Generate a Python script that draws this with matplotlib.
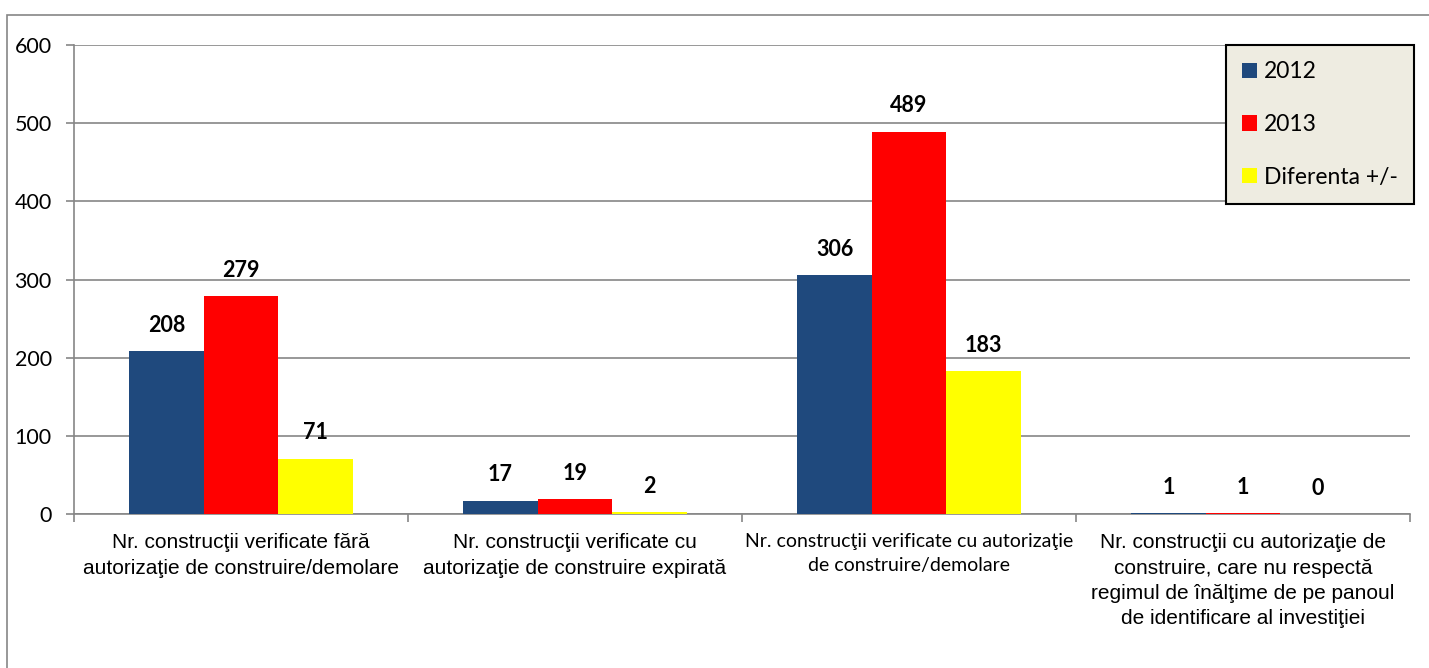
import matplotlib
matplotlib.use("Agg")
import matplotlib.pyplot as plt
import matplotlib.patches as mpatches
import numpy as np

categories = [
    "Nr. construcţii verificate fără\nautorizaţie de construire/demolare",
    "Nr. construcţii verificate cu\nautorizaţie de construire expirată",
    "Nr. construcţii verificate cu autorizaţie\nde construire/demolare",
    "Nr. construcţii cu autorizaţie de\nconstruire, care nu respectă\nregimul de înălţime de pe panoul\nde identificare al investiţiei",
]
series_names = ["2012", "2013", "Diferenta +/-"]
vals_2012 = [208, 17, 306, 1]
vals_2013 = [279, 19, 489, 1]
vals_diff = [71, 2, 183, 0]
colors = ["#1F497D", "#FF0000", "#FFFF00"]

fig = plt.figure(figsize=(14.29, 6.68), dpi=100)
ax = fig.add_axes([74 / 1429, 1 - 514 / 668, 1336 / 1429, 469 / 668])

# outer chart border
fig.patches.append(mpatches.Rectangle((7 / 1429, -0.1), 1.2, 1 - 15 / 668 + 0.1,
                                      transform=fig.transFigure, fill=False,
                                      edgecolor="#868686", linewidth=1.2))

x = np.arange(len(categories))
w = 0.223
for i, (vals, name, c) in enumerate(zip([vals_2012, vals_2013, vals_diff], series_names, colors)):
    bars = ax.bar(x + (i - 1) * w, vals, w, color=c, label=name, zorder=3)
    for b, v in zip(bars, vals):
        ax.annotate(str(v), (b.get_x() + b.get_width() / 2, v), xytext=(0, 11),
                    textcoords="offset points", ha="center", va="bottom",
                    fontsize=15.5, fontweight="bold", family=["Lato", "DejaVu Sans"])

ax.set_xlim(-0.5, 3.5)
ax.set_ylim(0, 600)
ax.set_yticks(range(0, 601, 100))
ax.yaxis.grid(True, color="#868686", linewidth=1.2, zorder=0)
ax.set_axisbelow(True)
for sp in ["top", "right"]:
    ax.spines[sp].set_visible(False)
for sp in ["left", "bottom"]:
    ax.spines[sp].set_color("#868686")
    ax.spines[sp].set_linewidth(1.2)

ax.tick_params(axis="y", length=6, color="#868686", width=1.2, labelsize=15.5, pad=10)
for t in ax.get_yticklabels():
    t.set_family(["Lato", "DejaVu Sans"])

ax.set_xticks(x)
ax.set_xticklabels(categories)
ax.set_xticks(np.arange(-0.5, 3.6, 1), minor=True)
ax.tick_params(axis="x", which="major", length=0, pad=14)
ax.tick_params(axis="x", which="minor", length=6, color="#868686", width=1.2)
for i, t in enumerate(ax.get_xticklabels()):
    t.set_va("top")
    t.set_ha("center")
    t.set_multialignment("center")
    t.set_linespacing(1.42)
    if i == 2:
        t.set_family(["Lato", "DejaVu Sans"])
        t.set_fontsize(14)
        t.set_linespacing(1.5)
    else:
        t.set_family(["Liberation Sans", "DejaVu Sans"])
        t.set_fontsize(15)

leg = ax.legend(loc="upper left", bbox_to_anchor=(0.862, 1.0), frameon=True,
                fancybox=False, edgecolor="black", facecolor="#EEECE1", framealpha=1,
                prop={"family": ["Lato", "DejaVu Sans"], "size": 16.5},
                handlelength=0.65, handleheight=0.65, handletextpad=0.3,
                labelspacing=1.38, borderpad=0.72, borderaxespad=0)
leg.get_frame().set_linewidth(1.5)

fig.savefig("out.png", dpi=100)
